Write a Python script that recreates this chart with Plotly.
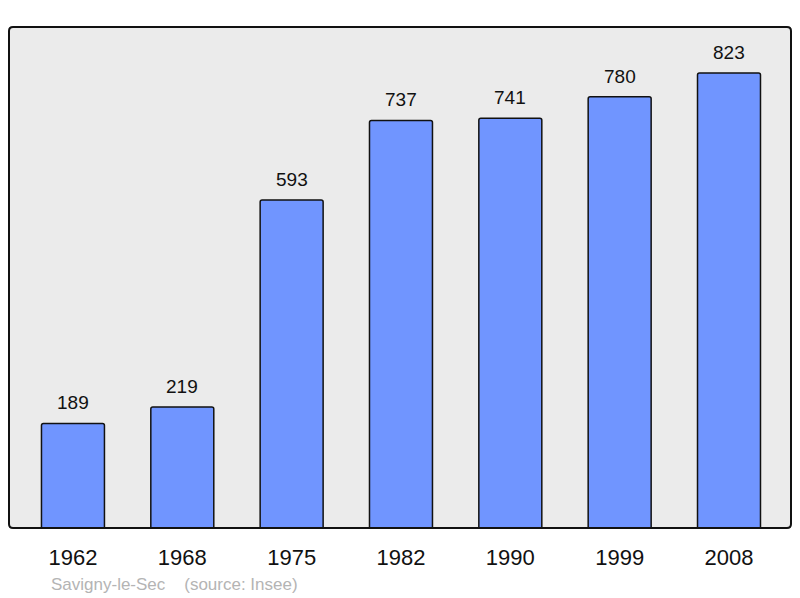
import plotly.graph_objects as go

years = ["1962", "1968", "1975", "1982", "1990", "1999", "2008"]
population = [189, 219, 593, 737, 741, 780, 823]
footer_town = "Savigny-le-Sec"
footer_source = "(source: Insee)"

xpos = list(range(len(years)))
FONT = "Liberation Sans, Arial, sans-serif"

fig = go.Figure()
fig.add_trace(go.Bar(
    x=xpos, y=population, width=0.576,
    marker=dict(color="#7095ff", line=dict(color="#111111", width=1.5), cornerradius=2),
    hoverinfo="skip",
))

for x, v in zip(xpos, population):
    fig.add_annotation(x=x, y=v, text=str(v), showarrow=False, yanchor="bottom", yshift=8,
                       font=dict(family=FONT, size=19, color="#111111"))

fig.add_annotation(xref="paper", yref="paper", x=(49 - 9) / 782, y=-(584 - 528) / 501,
                   xanchor="left", yanchor="middle", showarrow=False,
                   text=footer_town + "\u00a0" * 4 + footer_source,
                   font=dict(family=FONT, size=17, color="#b4b4b4"))

rx, ry = 4 / 782, 4 / 501
path = (f"M {rx},0 L {1-rx},0 Q 1,0 1,{ry} L 1,{1-ry} Q 1,1 {1-rx},1 "
        f"L {rx},1 Q 0,1 0,{1-ry} L 0,{ry} Q 0,0 {rx},0 Z")
fig.add_shape(type="path", xref="paper", yref="paper", path=path,
              line=dict(color="#111111", width=2), fillcolor="rgba(0,0,0,0)", layer="above")

fig.update_layout(
    width=800, height=598,
    margin=dict(l=9, r=9, t=27, b=70),
    paper_bgcolor="white", plot_bgcolor="#ebebeb",
    showlegend=False,
    xaxis=dict(range=[-0.585, 6.567], tickvals=xpos, ticktext=years, showgrid=False, zeroline=False,
               ticks="outside", ticklen=10, tickcolor="rgba(0,0,0,0)",
               tickfont=dict(family=FONT, size=22, color="#111111")),
    yaxis=dict(range=[0, 906], showgrid=False, zeroline=False, showticklabels=False, ticks=""),
)

fig.write_html("out.html", config={"displayModeBar": False},
               post_script="document.body.style.margin='0';document.body.style.overflow='hidden';")
